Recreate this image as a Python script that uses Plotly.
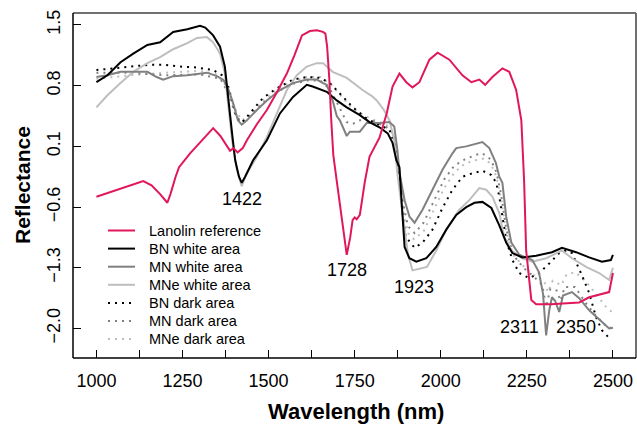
import plotly.graph_objects as go

# ---------------- data ----------------
lan_wl = [1000, 1030, 1070, 1110, 1136, 1160, 1185, 1206, 1215, 1230, 1240, 1272, 1301, 1339, 1360,
          1388, 1398, 1410, 1425, 1437, 1465, 1495, 1525, 1553, 1575, 1597, 1620, 1640, 1658, 1665,
          1670, 1676, 1682, 1688, 1698, 1710, 1720, 1727, 1737, 1744, 1750, 1756, 1765, 1779, 1793,
          1802, 1822, 1843, 1860, 1880, 1900, 1918, 1938, 1967, 1991, 2025, 2063, 2089, 2112, 2129,
          2150, 2179, 2199, 2219, 2234, 2242, 2248, 2263, 2277, 2320, 2380, 2402, 2431, 2460, 2489, 2500]
lan_val = [-0.48, -0.44, -0.39, -0.33, -0.30, -0.35, -0.45, -0.55, -0.45, -0.25, -0.14, 0.02, 0.15, 0.31, 0.22,
           0.05, 0.08, 0.03, 0.08, 0.17, 0.35, 0.52, 0.73, 0.94, 1.15, 1.38, 1.43, 1.44, 1.42, 1.40,
           1.25, 0.90, 0.40, 0.00, -0.30, -0.65, -0.95, -1.15, -0.95, -0.75, -0.72, -0.74, -0.69, -0.32, -0.02,
           0.05, 0.20, 0.48, 0.79, 0.94, 0.84, 0.78, 0.84, 1.10, 1.18, 1.10, 0.92, 0.84, 0.87, 0.81,
           0.90, 1.00, 0.96, 0.75, 0.40, -0.29, -1.10, -1.67, -1.72, -1.72, -1.71, -1.70, -1.64, -1.61, -1.58, -1.36]

bnw_wl = [1000, 1032, 1070, 1107, 1148, 1185, 1223, 1264, 1301, 1316, 1339, 1359, 1373, 1382, 1394,
          1403, 1414, 1422, 1432, 1455, 1495, 1533, 1571, 1611, 1628, 1669, 1698, 1727, 1765, 1793,
          1822, 1846, 1860, 1871, 1880, 1886, 1895, 1909, 1929, 1958, 1987, 2016, 2045, 2074, 2098,
          2121, 2147, 2170, 2190, 2208, 2237, 2277, 2323, 2352, 2393, 2431, 2468, 2494, 2500]
bnw_val = [0.84, 0.92, 1.07, 1.17, 1.27, 1.30, 1.42, 1.45, 1.49, 1.47, 1.38, 1.25, 1.02, 0.72, 0.25,
           -0.06, -0.25, -0.32, -0.25, -0.06, 0.17, 0.48, 0.67, 0.81, 0.79, 0.73, 0.63, 0.55, 0.46, 0.38,
           0.32, 0.25, 0.14, -0.06, -0.14, -0.52, -1.06, -1.19, -1.23, -1.19, -1.06, -0.86, -0.69, -0.60, -0.55,
           -0.54, -0.61, -0.81, -1.01, -1.13, -1.18, -1.16, -1.12, -1.07, -1.12, -1.18, -1.23, -1.21, -1.15]

mnw_wl = [1000, 1032, 1070, 1148, 1175, 1194, 1223, 1264, 1321, 1350, 1368, 1382, 1397, 1411, 1422,
          1437, 1466, 1495, 1533, 1571, 1611, 1640, 1658, 1669, 1686, 1698, 1707, 1727, 1736, 1750,
          1765, 1785, 1822, 1851, 1865, 1874, 1880, 1895, 1909, 1924, 1947, 1976, 2005, 2034, 2045,
          2074, 2103, 2121, 2141, 2160, 2170, 2179, 2190, 2205, 2228, 2266, 2285, 2297, 2306, 2315,
          2323, 2332, 2344, 2355, 2381, 2402, 2431, 2460, 2489, 2500]
mnw_val = [0.90, 0.92, 0.96, 0.96, 0.90, 0.87, 0.91, 0.92, 0.95, 0.91, 0.87, 0.77, 0.60, 0.40, 0.35,
           0.40, 0.52, 0.63, 0.75, 0.83, 0.87, 0.87, 0.83, 0.81, 0.63, 0.45, 0.40, 0.22, 0.27, 0.27,
           0.27, 0.37, 0.37, 0.38, 0.33, 0.06, -0.20, -0.52, -0.71, -0.78, -0.63, -0.40, -0.17, 0.02, 0.08,
           0.10, 0.13, 0.15, 0.08, -0.09, -0.25, -0.32, -0.71, -1.01, -1.15, -1.21, -1.35, -1.60, -2.08, -1.79,
           -1.64, -1.68, -1.81, -1.62, -1.58, -1.65, -1.79, -1.90, -2.00, -1.99]

mnew_wl = [1000, 1032, 1070, 1107, 1148, 1185, 1223, 1264, 1292, 1321, 1339, 1359, 1373, 1382, 1394,
           1408, 1422, 1435, 1466, 1495, 1524, 1553, 1582, 1611, 1640, 1658, 1669, 1686, 1727, 1773,
           1800, 1814, 1835, 1851, 1865, 1874, 1890, 1905, 1918, 1960, 1987, 2016, 2054, 2083, 2112,
           2132, 2150, 2170, 2184, 2205, 2237, 2266, 2306, 2352, 2381, 2422, 2460, 2489, 2500]
mnew_val = [0.55, 0.69, 0.83, 0.96, 1.06, 1.13, 1.22, 1.29, 1.35, 1.36, 1.30, 1.17, 0.94, 0.63, 0.17,
            -0.17, -0.36, -0.22, -0.02, 0.21, 0.48, 0.75, 0.92, 1.02, 1.06, 1.06, 1.02, 0.96, 0.89, 0.75,
            0.68, 0.63, 0.52, 0.40, 0.17, -0.21, -0.70, -1.15, -1.33, -1.29, -1.10, -0.86, -0.63, -0.52, -0.38,
            -0.40, -0.48, -0.67, -0.94, -1.10, -1.19, -1.23, -1.19, -1.10, -1.19, -1.29, -1.36, -1.44, -1.30]

bnd_wl = [1000, 1050, 1100, 1150, 1200, 1245, 1290, 1339, 1365, 1380, 1394, 1408, 1422, 1445, 1484,
          1524, 1571, 1611, 1650, 1678, 1707, 1745, 1785, 1822, 1851, 1865, 1880, 1890, 1898, 1924,
          1947, 1976, 2005, 2034, 2063, 2092, 2121, 2147, 2161, 2170, 2179, 2190, 2208, 2228, 2257,
          2286, 2315, 2344, 2364, 2381, 2407, 2431, 2451, 2468, 2494]
bnd_val = [0.98, 1.00, 1.02, 1.04, 1.04, 1.02, 1.01, 0.98, 0.92, 0.83, 0.63, 0.42, 0.37, 0.48, 0.66,
           0.77, 0.87, 0.90, 0.89, 0.83, 0.71, 0.55, 0.42, 0.35, 0.29, 0.14, -0.32, -0.71, -0.94, -1.07,
           -1.01, -0.86, -0.61, -0.40, -0.25, -0.21, -0.18, -0.23, -0.32, -0.48, -0.71, -0.98, -1.21, -1.36, -1.42,
           -1.36, -1.25, -1.13, -1.10, -1.13, -1.36, -1.59, -1.87, -2.02, -2.13]

mnd_wl = [1000, 1100, 1200, 1300, 1360, 1385, 1405, 1422, 1445, 1490, 1530, 1570, 1611, 1650, 1680,
          1700, 1727, 1745, 1765, 1800, 1840, 1862, 1875, 1890, 1905, 1924, 1950, 1980, 2010, 2040,
          2070, 2100, 2121, 2145, 2162, 2175, 2190, 2210, 2240, 2270, 2295, 2306, 2318, 2335, 2348,
          2360, 2390, 2420, 2450, 2480, 2500]
mnd_val = [0.95, 0.95, 0.92, 0.93, 0.88, 0.70, 0.45, 0.38, 0.45, 0.62, 0.74, 0.82, 0.86, 0.86, 0.75,
           0.60, 0.38, 0.36, 0.40, 0.40, 0.33, 0.25, -0.10, -0.55, -0.82, -0.90, -0.78, -0.52, -0.28, -0.12,
           -0.05, 0.00, 0.02, -0.05, -0.20, -0.45, -0.85, -1.15, -1.30, -1.40, -1.50, -1.75, -1.55, -1.55, -1.68,
           -1.52, -1.52, -1.70, -1.85, -1.97, -2.00]

mned_wl = [1000, 1100, 1200, 1300, 1350, 1380, 1400, 1422, 1445, 1490, 1530, 1570, 1611, 1650, 1680,
           1710, 1740, 1780, 1820, 1850, 1865, 1878, 1892, 1905, 1922, 1950, 1980, 2010, 2040, 2070,
           2100, 2125, 2145, 2162, 2175, 2190, 2210, 2240, 2270, 2300, 2311, 2325, 2350, 2365, 2390,
           2420, 2450, 2480, 2500]
mned_val = [0.88, 0.92, 0.95, 0.97, 0.93, 0.78, 0.55, 0.40, 0.45, 0.65, 0.77, 0.85, 0.90, 0.90, 0.82,
            0.68, 0.55, 0.45, 0.38, 0.33, 0.20, -0.20, -0.65, -0.90, -0.97, -0.88, -0.62, -0.38, -0.20, -0.10,
            -0.06, -0.04, -0.10, -0.25, -0.50, -0.88, -1.15, -1.28, -1.38, -1.45, -1.58, -1.45, -1.50, -1.38, -1.35,
            -1.45, -1.60, -1.75, -1.82]

peak_wl = [1422, 1727, 1922, 2230, 2393]
peak_y = [-0.507, -1.326, -1.52, -1.98, -1.98]
peak_labels = ["1422", "1728", "1923", "2311", "2350"]

x_tickvals = [1000, 1125, 1250, 1375, 1500, 1625, 1750, 1875, 2000, 2125, 2250, 2375, 2500]
x_ticktext = ["1000", "", "1250", "", "1500", "", "1750", "", "2000", "", "2250", "", "2500"]
y_tickvals = [-2.0, -1.3, -0.6, 0.1, 0.8, 1.5]
y_ticktext = ["\u22122.0", "\u22121.3", "\u22120.6", "0.1", "0.8", "1.5"]

# ---------------- figure ----------------
FONT = "Liberation Sans, Arial, sans-serif"
MID = "#808080"
LIGHT = "#BEBEBE"
RED = "#E0185A"
DOT = "2px,5px"

W, H = 637, 425
L, R, T, B = 73, 1, 13, 67
PW, PH = W - L - R, H - T - B


def px_x(p):
    return (p - L) / PW


def px_y(p):
    return (H - B - p) / PH


fig = go.Figure()
series = [
    ("Lanolin reference", lan_wl, lan_val, RED, "solid"),
    ("BN white area", bnw_wl, bnw_val, "black", "solid"),
    ("MN white area", mnw_wl, mnw_val, MID, "solid"),
    ("MNe white area", mnew_wl, mnew_val, LIGHT, "solid"),
    ("BN dark area", bnd_wl, bnd_val, "black", DOT),
    ("MN dark area", mnd_wl, mnd_val, MID, DOT),
    ("MNe dark area", mned_wl, mned_val, LIGHT, DOT),
]
# draw order: dark areas first, lanolin last (on top)
for name, xs, ys, col, dash in reversed(series):
    fig.add_trace(go.Scatter(x=xs, y=ys, mode="lines", name=name, showlegend=False,
                             line=dict(color=col, width=2, dash=dash)))

# legend drawn manually to match the compact row spacing
for i, (name, xs, ys, col, dash) in enumerate(series):
    yy = px_y(230.5 + 18.1 * i)
    fig.add_shape(type="line", xref="paper", yref="paper", x0=px_x(108), x1=px_x(135), y0=yy, y1=yy,
                  line=dict(color=col, width=2, dash=dash))
    fig.add_annotation(xref="paper", yref="paper", x=px_x(147), y=yy, text=name, showarrow=False,
                       xanchor="left", yanchor="middle",
                       font=dict(family=FONT, size=14.5, color="black"))

for wl, yv, t in zip(peak_wl, peak_y, peak_labels):
    fig.add_annotation(x=wl, y=yv, text=t, showarrow=False,
                       font=dict(family=FONT, size=18, color="black"))

# frame: grey top/right, black left/bottom
fig.add_shape(type="line", xref="paper", yref="paper", x0=0, x1=1, y0=1, y1=1,
              line=dict(color="#707070", width=2))
fig.add_shape(type="line", xref="paper", yref="paper", x0=1, x1=1, y0=0, y1=1,
              line=dict(color="#707070", width=2))
fig.add_shape(type="line", xref="paper", yref="paper", x0=0, x1=0, y0=0, y1=1,
              line=dict(color="black", width=1.5))
fig.add_shape(type="line", xref="paper", yref="paper", x0=0, x1=1, y0=0, y1=0,
              line=dict(color="black", width=1.5))

# axis titles
fig.add_annotation(xref="paper", yref="paper", x=px_x(356), y=px_y(411), text="<b>Wavelength (nm)</b>",
                   showarrow=False, xanchor="center", yanchor="middle",
                   font=dict(family=FONT, size=22, color="black"))
fig.add_annotation(xref="paper", yref="paper", x=px_x(22), y=px_y(185), text="<b>Reflectance</b>",
                   showarrow=False, textangle=-90, xanchor="center", yanchor="middle",
                   font=dict(family=FONT, size=21, color="black"))

fig.update_layout(
    width=W, height=H,
    margin=dict(l=L, r=R, t=T, b=B),
    paper_bgcolor="white", plot_bgcolor="white",
    font=dict(family=FONT, size=18, color="black"),
    showlegend=False,
    xaxis=dict(range=[932, 2567], tickvals=x_tickvals, ticktext=x_ticktext,
               ticks="inside", ticklen=8, tickcolor="black", tickwidth=1,
               showline=False, showgrid=False, zeroline=False, automargin=False,
               ticklabelstandoff=10,
               tickfont=dict(family=FONT, size=18, color="black")),
    yaxis=dict(range=[-2.340, 1.638], tickvals=y_tickvals, ticktext=y_ticktext,
               ticks="inside", ticklen=8, tickcolor="black", tickwidth=1, tickangle=-90,
               showline=False, showgrid=False, zeroline=False, automargin=False,
               ticklabelstandoff=8,
               tickfont=dict(family=FONT, size=18, color="black")),
)

fig.write_html("out.html", config={"displayModeBar": False},
               post_script="document.body.style.margin='0';document.body.style.padding='0';")
